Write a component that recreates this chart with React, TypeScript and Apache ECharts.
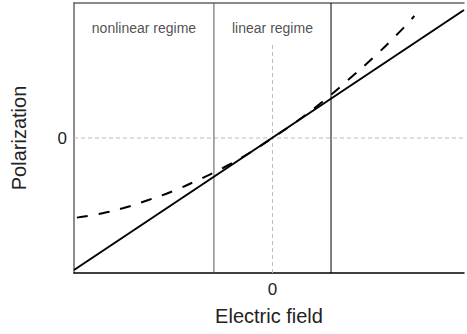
import React, { useEffect, useRef } from "react";
import * as echarts from "echarts";

const xTickLabels = ["0"];
const yTickLabels = ["0"];
const regimeLabels = ["nonlinear regime", "linear regime"];
const regimeBounds = [-0.59, 0.59];

const linearField = [-2, 1.93];
const linearPolarization = [-1.32, 1.28];

const nonlinearField = [-2, -1.75, -1.5, -1.25, -1, -0.75, -0.5, -0.25, 0, 0.25, 0.5, 0.75, 1, 1.25, 1.43];
const nonlinearPolarization = [-0.8, -0.76, -0.7, -0.62, -0.53, -0.42, -0.3, -0.16, 0, 0.17, 0.36, 0.57, 0.79, 1.03, 1.22];

const xRange = [-2, 1.93];
const yRange = [-1.35, 1.35];
const zeroGuideTop = 0.96;

export default function App() {
  const ref = useRef<HTMLDivElement>(null);
  useEffect(() => {
    const chart = echarts.init(ref.current!, null, { renderer: "svg" });
    const font = "'Liberation Sans', Arial, sans-serif";
    chart.setOption({
      animation: false,
      grid: { left: 74, top: 3, right: 0, bottom: 61 },
      xAxis: [
        {
          type: "value",
          min: xRange[0],
          max: xRange[1],
          interval: 1,
          axisLine: { show: true, onZero: false, lineStyle: { color: "#000", width: 1.5 } },
          axisTick: { show: false },
          splitLine: { show: false },
          axisLabel: {
            margin: 8,
            fontSize: 17,
            color: "#222",
            fontFamily: font,
            formatter: (v: number) => (Math.abs(v) < 1e-9 ? xTickLabels[0] : ""),
          },
          name: "Electric field",
          nameLocation: "middle",
          nameGap: 33,
          nameTextStyle: { fontSize: 20, color: "#222", fontFamily: font },
        },
        {
          type: "value",
          position: "top",
          min: xRange[0],
          max: xRange[1],
          axisLine: { show: true, onZero: false, lineStyle: { color: "#666", width: 1.5 } },
          axisTick: { show: false },
          axisLabel: { show: false },
          splitLine: { show: false },
        },
      ],
      yAxis: {
        type: "value",
        min: yRange[0],
        max: yRange[1],
        axisLine: { show: true, onZero: false, lineStyle: { color: "#666", width: 1.5 } },
        axisTick: { show: false },
        splitLine: { show: false },
        axisLabel: {
          margin: 7,
          fontSize: 17,
          color: "#222",
          fontFamily: font,
          customValues: [0],
          formatter: (v: number) => (Math.abs(v) < 1e-9 ? yTickLabels[0] : ""),
        },
        name: "Polarization",
        nameLocation: "middle",
        nameGap: 45,
        nameTextStyle: { fontSize: 20, color: "#222", fontFamily: font },
      },
      series: [
        {
          type: "line",
          symbol: "none",
          silent: true,
          data: [[xRange[0], 0], [xRange[1], 0]],
          lineStyle: { color: "#bbb", width: 1, type: [4, 3] },
        },
        {
          type: "line",
          symbol: "none",
          silent: true,
          data: [[0, yRange[0]], [0, zeroGuideTop]],
          lineStyle: { color: "#bbb", width: 1, type: [4, 3] },
        },
        {
          type: "line",
          symbol: "none",
          silent: true,
          data: [[regimeBounds[0], yRange[0]], [regimeBounds[0], yRange[1]]],
          lineStyle: { color: "#555", width: 1 },
        },
        {
          type: "line",
          symbol: "none",
          silent: true,
          data: [[regimeBounds[1], yRange[0]], [regimeBounds[1], yRange[1]]],
          lineStyle: { color: "#000", width: 1 },
        },
        {
          type: "line",
          symbol: "none",
          silent: true,
          data: linearField.map((e, i) => [e, linearPolarization[i]]),
          lineStyle: { color: "#000", width: 2 },
        },
        {
          type: "line",
          symbol: "none",
          silent: true,
          smooth: true,
          data: nonlinearField.map((e, i) => [e, nonlinearPolarization[i]]),
          lineStyle: { color: "#000", width: 2, type: [11, 11], dashOffset: -3 },
        },
        {
          type: "scatter",
          symbolSize: 0,
          silent: true,
          data: [
            [(xRange[0] + regimeBounds[0]) / 2, 1.1],
            [0, 1.1],
          ],
          label: {
            show: true,
            position: "inside",
            fontSize: 14,
            color: "#222",
            fontFamily: font,
            formatter: (p: any) => regimeLabels[p.dataIndex],
          },
        },
      ],
    });
    return () => chart.dispose();
  }, []);
  return <div ref={ref} style={{ width: 467, height: 334, position: "absolute", left: 0, top: 0 }} />;
}
